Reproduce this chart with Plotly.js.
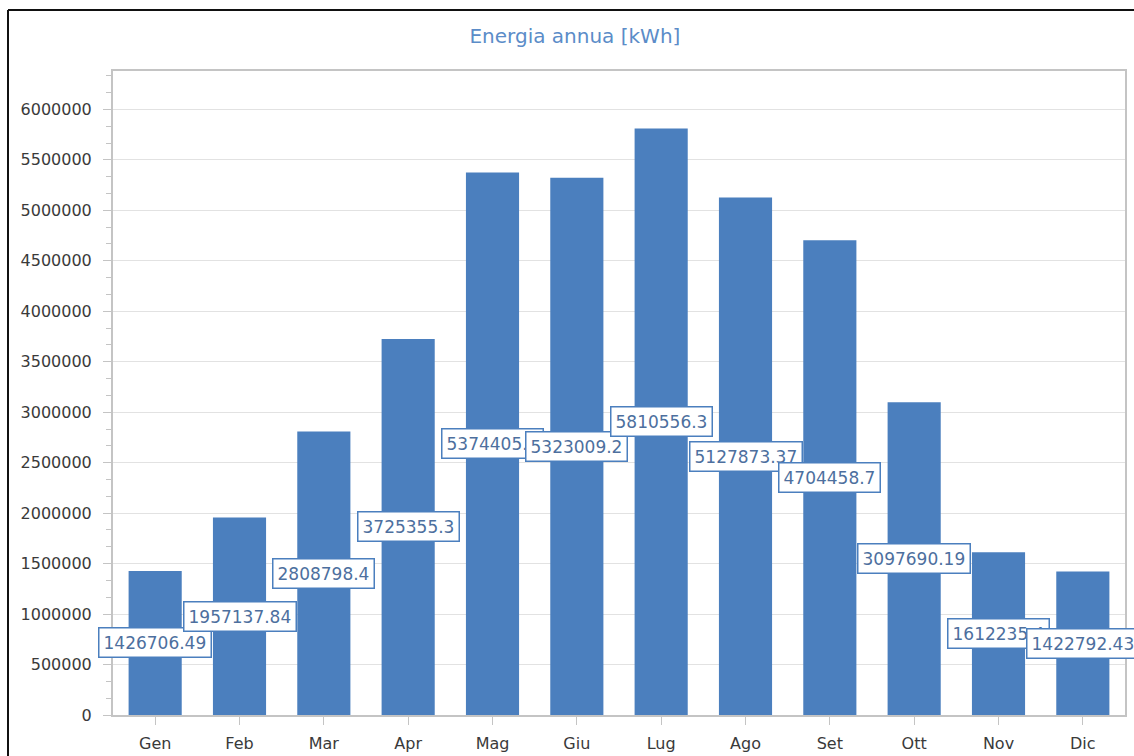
<!DOCTYPE html>
<html>
<head>
<meta charset="utf-8">
<script src="https://cdn.plot.ly/plotly-3.0.1.min.js"></script>
<style>
  html, body { margin: 0; padding: 0; background: #fff; overflow: hidden; }
  #chart { width: 1134px; height: 756px; }
</style>
</head>
<body>
<div id="chart"></div>
<script>
const months = ["Gen","Feb","Mar","Apr","Mag","Giu","Lug","Ago","Set","Ott","Nov","Dic"];
const energy = [1426706.49, 1957137.84, 2808798.4, 3725355.3, 5374405.5, 5323009.2,
                5810556.3, 5127873.37, 4704458.7, 3097690.19, 1612235.4, 1422792.43];
const energyLabels = ["1426706.49","1957137.84","2808798.4","3725355.3","5374405.5","5323009.2",
                      "5810556.3","5127873.37","4704458.7","3097690.19","1612235.4","1422792.43"];
const yTicks = [0,500000,1000000,1500000,2000000,2500000,3000000,3500000,4000000,4500000,5000000,5500000,6000000];

const font = "DejaVu Sans, Verdana, sans-serif";

const trace = {
  type: "bar",
  x: months,
  y: energy,
  marker: { color: "#4b7fbe", line: { width: 0 } },
  hoverinfo: "none"
};

const annotations = months.map((m, i) => ({
  x: m,
  y: energy[i] / 2,
  xref: "x",
  yref: "y",
  text: energyLabels[i],
  showarrow: false,
  bgcolor: "#ffffff",
  bordercolor: "#4b7fbe",
  borderwidth: 1.5,
  borderpad: 4,
  font: { family: font, size: 17, color: "#4d6f9e" }
}));

// outer black frame (left and top edges), in paper coordinates
const W = 1134 - 113 - 9, H = 756 - 71 - 41;
const fx = (px) => (px - 113) / W;
const fy = (py) => (756 - 41 - py) / H;

const layout = {
  width: 1134,
  height: 756,
  margin: { l: 113, r: 9, t: 71, b: 41 },
  paper_bgcolor: "#ffffff",
  plot_bgcolor: "#ffffff",
  showlegend: false,
  bargap: 0.37,
  title: {
    text: "Energia annua [kWh]",
    x: 0.507,
    xanchor: "center",
    y: 0.953,
    yanchor: "middle",
    font: { family: font, size: 20, color: "#5b8cc8" }
  },
  xaxis: {
    type: "category",
    range: [-0.5, 11.5],
    autorange: false,
    showgrid: false,
    showline: true,
    linecolor: "#c4c4c4",
    linewidth: 2,
    mirror: true,
    ticks: "outside",
    ticklen: 8,
    tickcolor: "#c4c4c4",
    tickfont: { family: font, size: 16, color: "#3a3a3a" },
    ticklabelstandoff: 5,
    fixedrange: true
  },
  yaxis: {
    range: [0, 6380000],
    autorange: false,
    tickvals: yTicks,
    ticktext: yTicks.map(v => String(v)),
    showgrid: true,
    gridcolor: "#e2e2e2",
    gridwidth: 1,
    zeroline: false,
    showline: true,
    linecolor: "#c4c4c4",
    linewidth: 2,
    mirror: true,
    ticks: "outside",
    ticklen: 8,
    tickcolor: "#c4c4c4",
    tickfont: { family: font, size: 16, color: "#3a3a3a" },
    ticklabelstandoff: 8,
    minor: { dtick: 500000 / 3, tick0: 0, ticks: "outside", ticklen: 5, tickcolor: "#c4c4c4", showgrid: false },
    fixedrange: true
  },
  shapes: [
    { type: "line", xref: "paper", yref: "paper", x0: fx(8), x1: fx(1140), y0: fy(10), y1: fy(10),
      line: { color: "#111111", width: 2 }, layer: "above" },
    { type: "line", xref: "paper", yref: "paper", x0: fx(8), x1: fx(8), y0: fy(10), y1: fy(770),
      line: { color: "#111111", width: 2 }, layer: "above" }
  ],
  annotations: annotations
};

Plotly.newPlot("chart", [trace], layout, { displayModeBar: false, staticPlot: true });
</script>
</body>
</html>
